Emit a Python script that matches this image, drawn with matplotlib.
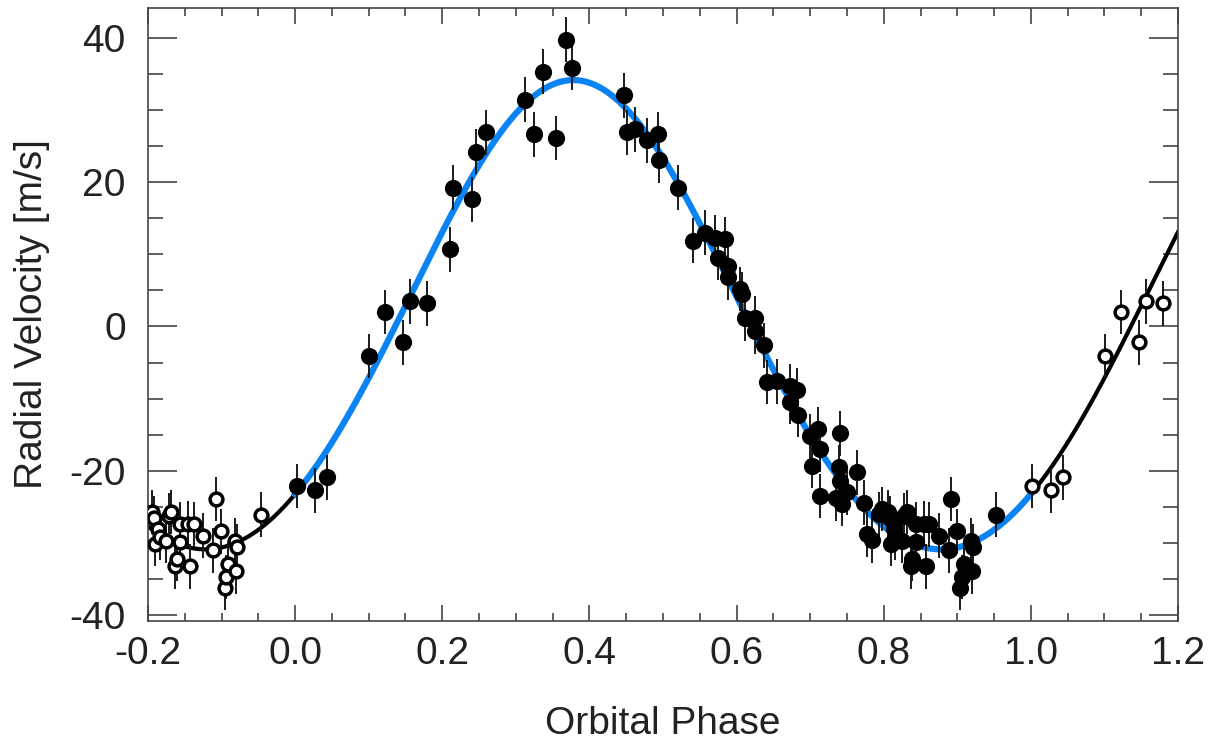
import numpy as np
import matplotlib
matplotlib.use("Agg")
import matplotlib.pyplot as plt
from matplotlib.ticker import MultipleLocator, FormatStrFormatter

plt.rcParams["font.family"] = ["Liberation Sans", "DejaVu Sans"]
plt.rcParams["axes.unicode_minus"] = False

# ---- phased RV measurements (phase in [0, 1)) ----
PHASE = [
    0.002, 0.027, 0.043, 0.101, 0.122, 0.147, 0.156, 0.179, 0.210, 0.214,
    0.241, 0.246, 0.260, 0.312, 0.325, 0.337, 0.355, 0.368, 0.376, 0.447,
    0.451, 0.462, 0.478, 0.493, 0.495, 0.521, 0.541, 0.557, 0.571, 0.575,
    0.584, 0.589, 0.589, 0.605, 0.607, 0.612, 0.625, 0.625, 0.637, 0.641,
    0.655, 0.673, 0.673, 0.682, 0.684, 0.700, 0.703, 0.711, 0.714, 0.714,
    0.735, 0.739, 0.741, 0.741, 0.743, 0.750, 0.763, 0.773, 0.777, 0.784,
    0.793, 0.797, 0.806, 0.808, 0.810, 0.814, 0.816, 0.825, 0.828, 0.831,
    0.837, 0.839, 0.844, 0.844, 0.855, 0.857, 0.862, 0.875, 0.889, 0.892,
    0.899, 0.904, 0.906, 0.909, 0.918, 0.920, 0.921, 0.953,
]
RV = [
    -22.1, -22.7, -20.9, -4.1, 2.0, -2.2, 3.5, 3.2, 10.7, 19.2,
    17.6, 24.2, 26.9, 31.4, 26.6, 35.3, 26.1, 39.7, 35.8, 32.0,
    26.9, 27.3, 25.8, 26.6, 23.0, 19.2, 11.9, 13.0, 12.3, 9.5,
    12.1, 8.4, 6.8, 5.2, 4.5, 1.1, 1.1, -0.7, -2.6, -7.7,
    -7.6, -8.3, -10.4, -8.8, -12.2, -15.2, -19.3, -14.2, -17.0, -23.5,
    -23.8, -19.5, -14.8, -21.4, -24.6, -23.0, -20.2, -24.4, -28.8, -29.6,
    -26.0, -25.3, -25.7, -26.6, -30.1, -28.1, -29.2, -29.7, -26.2, -25.7,
    -33.2, -32.2, -27.4, -29.9, -27.3, -33.2, -27.4, -29.0, -31.0, -23.9,
    -28.4, -36.2, -34.7, -32.9, -29.7, -33.9, -30.5, -26.1,
]
RV_ERR = 3.1  # m/s, roughly uniform

# ---- Keplerian orbit solution ----
K_AMP = 32.5        # m/s
ECC = 0.05
OMEGA_DEG = 0.0
GAMMA = 0.0         # m/s
PHASE_PERI = 0.378  # phase of periastron passage


def kepler_rv(phase):
    M = 2 * np.pi * (phase - PHASE_PERI)
    E = M.copy()
    for _ in range(30):
        E = E - (E - ECC * np.sin(E) - M) / (1 - ECC * np.cos(E))
    nu = 2 * np.arctan2(np.sqrt(1 + ECC) * np.sin(E / 2),
                        np.sqrt(1 - ECC) * np.cos(E / 2))
    w = np.radians(OMEGA_DEG)
    return GAMMA + K_AMP * (np.cos(nu + w) + ECC * np.cos(w))


phase = np.array(PHASE)
rv = np.array(RV)

# wrapped copies shown as open symbols
lo = phase >= 0.8
hi = phase <= 0.2
ph_open = np.concatenate([phase[lo] - 1.0, phase[hi] + 1.0])
rv_open = np.concatenate([rv[lo], rv[hi]])

fig = plt.figure(figsize=(12.21, 7.51), dpi=100)
ax = fig.add_axes([0.1212, 0.1731, 0.8436, 0.8162])

txt = "#222222"
edge = "#444444"
FS = 28

# model curve: black outside one cycle, blue over [0, 1]
x_left = np.linspace(-0.2, 0.0, 200)
x_mid = np.linspace(0.0, 1.0, 800)
x_right = np.linspace(1.0, 1.2, 200)
ax.plot(x_left, kepler_rv(x_left), color="black", lw=3.0, zorder=2)
ax.plot(x_right, kepler_rv(x_right), color="black", lw=3.0, zorder=2)
ax.plot(x_mid, kepler_rv(x_mid), color="#0a84f5", lw=4.5, zorder=2)

# error bars
ax.errorbar(phase, rv, yerr=RV_ERR, fmt="none", ecolor="#1a1a1a",
            elinewidth=1.4, capsize=0, zorder=3)
ax.errorbar(ph_open, rv_open, yerr=RV_ERR, fmt="none", ecolor="#1a1a1a",
            elinewidth=1.4, capsize=0, zorder=3)

# points
ax.plot(phase, rv, "o", color="black", ms=12.4, mew=0, zorder=4)
ax.plot(ph_open, rv_open, "o", mfc="white", mec="black", ms=9.2, mew=2.5,
        zorder=4)

ax.set_xlim(-0.2, 1.2)
ax.set_ylim(-40.8, 44.1)

ax.xaxis.set_major_locator(MultipleLocator(0.2))
ax.xaxis.set_minor_locator(MultipleLocator(0.05))
ax.yaxis.set_major_locator(MultipleLocator(20))
ax.yaxis.set_minor_locator(MultipleLocator(5))
ax.xaxis.set_major_formatter(FormatStrFormatter("%.1f"))
ax.yaxis.set_major_formatter(FormatStrFormatter("%d"))

ax.tick_params(axis="both", which="both", direction="in", top=True,
               right=True, colors=edge, labelcolor=txt, labelsize=FS)
ax.tick_params(axis="x", which="major", length=11.5, width=1.2, pad=11)
ax.tick_params(axis="x", which="minor", length=5.8, width=1.2)
ax.tick_params(axis="y", which="major", length=21, width=1.2, pad=16)
ax.tick_params(axis="y", which="minor", length=10.5, width=1.2)

for sp in ax.spines.values():
    sp.set_color(edge)
    sp.set_linewidth(1.2)

ax.set_xlabel("Orbital Phase", fontsize=FS, color=txt, labelpad=24)
ax.set_ylabel("Radial Velocity [m/s]", fontsize=FS, color=txt, labelpad=14)

fig.savefig("out.png", dpi=100)
